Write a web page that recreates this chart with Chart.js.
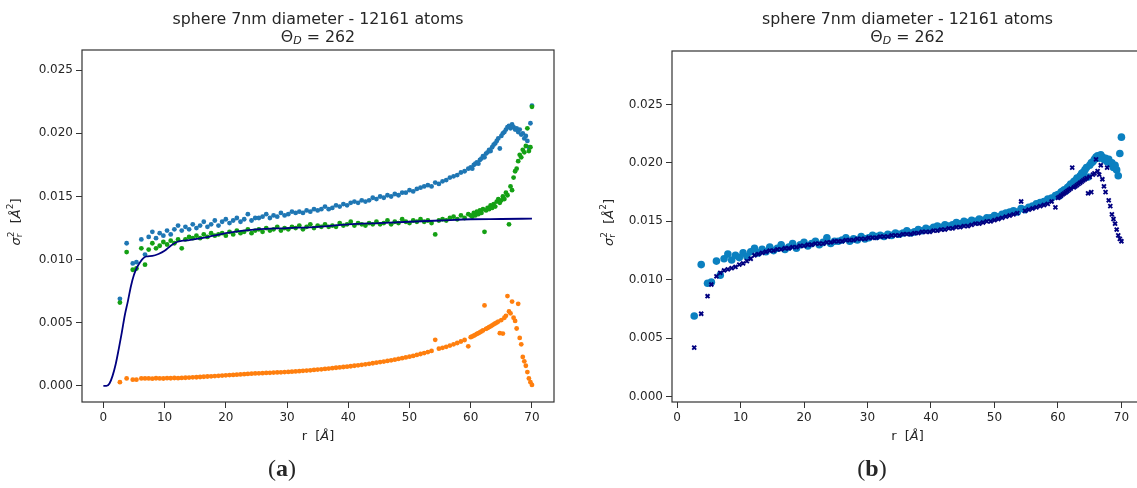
<!DOCTYPE html>
<html>
<head>
<meta charset="utf-8">
<script src="https://cdn.jsdelivr.net/npm/chart.js@4.4.1/dist/chart.umd.min.js"></script>
<style>
  html, body { margin: 0; padding: 0; background: #fff; overflow: hidden; }
  #wrap { position: relative; width: 1137px; height: 488px; overflow: hidden; }
  #chartA { position: absolute; left: 0; top: 0; }
  #chartB { position: absolute; left: 570px; top: 0; }
</style>
</head>
<body>
<div id="wrap">
  <canvas id="chartA" width="570" height="488"></canvas>
  <canvas id="chartB" width="580" height="488"></canvas>
</div>
<script>
const shellR = [
  2.7, 3.8, 4.8, 5.4, 6.2, 6.8,
  7.4, 8.0, 8.6, 9.2, 9.8, 10.4, 11.0, 11.6, 12.2, 12.8,
  13.4, 14.0, 14.6, 15.2, 15.8, 16.4, 17.0, 17.6, 18.2, 18.8,
  19.4, 20.0, 20.6, 21.2, 21.8, 22.4, 23.0, 23.6, 24.2, 24.8,
  25.4, 26.0, 26.6, 27.2, 27.8, 28.4, 29.0, 29.6, 30.2, 30.8,
  31.4, 32.0, 32.6, 33.2, 33.8, 34.4, 35.0, 35.6, 36.2, 36.8,
  37.4, 38.0, 38.6, 39.2, 39.8, 40.4, 41.0, 41.6, 42.2, 42.8,
  43.4, 44.0, 44.6, 45.2, 45.8, 46.4, 47.0, 47.6, 48.2, 48.8,
  49.4, 50.0, 50.6, 51.2, 51.8, 52.4, 53.0, 53.6, 54.2, 54.8,
  55.4, 56.0, 56.6, 57.2, 57.8, 58.4, 59.0, 59.6,
  60.0, 60.25, 60.5, 60.75, 61.0, 61.25, 61.5, 61.75, 62.0, 62.25,
  62.5, 62.75, 63.0, 63.25, 63.5, 63.75, 64.0, 64.25, 64.5, 64.75,
  65.0, 65.25, 65.5, 65.75, 66.0, 66.25, 66.5, 66.75, 67.0, 67.25,
  67.5, 67.75, 68.0, 68.25, 68.5, 68.75, 69.0, 69.25, 69.5, 69.75,
  70.0
];

// blue dots (a) / light blue circles (b)
const sigmaTotal = [
  .0069, .0113, .0097, .0098, .0116, .0104,
  .0118, .0122, .0117, .0121, .0119, .0123, .0120, .0124, .0127, .0123,
  .0126, .0124, .0128, .0125, .0127, .0130, .0126, .0128, .0131, .0127,
  .0130, .0132, .0129, .0131, .0133, .0130, .0132, .0136, .0131, .0133,
  .0133, .0134, .0136, .0133, .0135, .0134, .0137, .0135, .0136, .0138,
  .0137, .0138, .0137, .0139, .0138, .0140, .0139, .0140, .0142, .0140,
  .0141, .0143, .0142, .0144, .0143, .0145, .0146, .0145, .0147, .0146,
  .0147, .0149, .0148, .0150, .0149, .0151, .0150, .0152, .0151, .0153,
  .0153, .0155, .0154, .0156, .0157, .0158, .0159, .0158, .0161, .0160,
  .0162, .0163, .0165, .0166, .0167, .0169, .0170, .0172,
  .0173, .0172, .0175, .0176, .0177, .0176, .0179, .0180, .0182, .0181,
  .0184, .0185, .0187, .0186, .0189, .0191, .0192, .0194, .0196, .0188,
  .0198, .0200, .0201, .0203, .0205, .0206, .0204, .0207, .0205, .0203,
  .0204, .0201, .0203, .0199, .0200, .0196, .0198, .0194, .0189, .0208,
  .0222
];

// green dots (a)
const sigmaThermal = [
  .0066, .0106, .0092, .0093, .0109, .0096,
  .0108, .0113, .0109, .0111, .0114, .0112, .0115, .0113, .0116, .0109,
  .0116, .0118, .0117, .0119, .0117, .0120, .0118, .0121, .0119, .0120,
  .0121, .0119, .0122, .0120, .0123, .0121, .0122, .0124, .0121, .0123,
  .0124, .0122, .0125, .0123, .0124, .0126, .0123, .0125, .0124, .0126,
  .0125, .0127, .0124, .0126, .0128, .0125, .0127, .0126, .0128, .0126,
  .0127, .0126, .0129, .0127, .0128, .0130, .0127, .0129, .0128, .0127,
  .0129, .0128, .0130, .0128, .0129, .0131, .0128, .0130, .0129, .0132,
  .0130, .0129, .0131, .0130, .0132, .0130, .0131, .0129, .0120, .0131,
  .0132, .0131, .0133, .0134, .0132, .0135, .0133, .0136,
  .0135, .0134, .0137, .0135, .0138, .0136, .0139, .0137, .0140, .0122,
  .0139, .0141, .0140, .0143, .0141, .0144, .0142, .0146, .0148, .0145,
  .0147, .0150, .0148, .0153, .0151, .0128, .0158, .0155, .0165, .0170,
  .0172, .0178, .0183, .0181, .0187, .0185, .0190, .0204, .0186, .0189,
  .0221
];

// orange dots (a)
const sigmaStatic = [
  .0003, .0006, .0005, .0005, .0006, .0006,
  .00060, .00058, .00061, .00060, .00059, .00062, .00061, .00063, .00062, .00064,
  .00065, .00066, .00068, .00069, .00071, .00073, .00075, .00076, .00078, .00080,
  .00082, .00084, .00086, .00087, .00089, .00091, .00093, .00095, .00097, .00099,
  .00100, .00101, .00103, .00104, .00106, .00107, .00108, .00110, .00111, .00113,
  .00115, .00117, .00120, .00122, .00124, .00127, .00130, .00132, .00135, .00138,
  .00141, .00144, .00147, .00150, .00153, .00156, .00160, .00163, .00167, .00171,
  .00175, .00180, .00184, .00189, .00193, .00198, .00203, .00208, .00214, .00220,
  .00226, .00232, .00238, .00246, .00253, .00260, .00268, .00277, .00365, .00295,
  .00302, .00310, .00320, .00330, .00340, .00352, .00364, .00314,
  .00386, .00392, .00398, .00405, .00412, .00418, .00425, .00432, .00440, .00638,
  .00452, .00458, .00466, .00472, .00480, .00488, .00495, .00502, .00510, .00418,
  .00522, .00415, .00540, .00555, .00712, .00590, .00575, .00668, .00540, .00515,
  .00455, .00650, .00380, .00330, .00230, .00195, .00160, .00110, .00060, .00030,
  .00008
];

// navy crosses (b)
const sigmaModel = [
  .0042, .0071, .0086, .0096, .0103, .0106,
  .0108, .0109, .0110, .0111, .0113, .0114, .0116, .0118, .0121, .0122,
  .0123, .0124, .0125, .0125, .0126, .0126, .0127, .0127, .0128, .0128,
  .0129, .0129, .0130, .0130, .0131, .0131, .0131, .0132, .0132, .0133,
  .0133, .0133, .0134, .0134, .0134, .0135, .0135, .0135, .0136, .0136,
  .0136, .0137, .0137, .0137, .0138, .0138, .0138, .0139, .0139, .0139,
  .0140, .0140, .0141, .0141, .0141, .0142, .0142, .0143, .0143, .0144,
  .0144, .0145, .0145, .0146, .0146, .0147, .0148, .0148, .0149, .0150,
  .0150, .0151, .0152, .0153, .0154, .0155, .0156, .0157, .0167, .0159,
  .0160, .0161, .0162, .0163, .0164, .0165, .0167, .0162,
  .0170, .0171, .0172, .0173, .0174, .0175, .0176, .0177, .0178, .0196,
  .0179, .0180, .0181, .0182, .0183, .0184, .0185, .0186, .0187, .0174,
  .0188, .0175, .0190, .0191, .0203, .0193, .0190, .0198, .0186, .0180,
  .0175, .0196, .0168, .0163, .0156, .0152, .0148, .0143, .0138, .0135,
  .0133
];

// navy curve (a)
const fitR = [0, 0.5, 1.0, 1.5, 2.0, 2.5, 3.0, 3.5, 4.0, 4.5, 5.0, 5.5, 6.0, 6.5, 7.0,
  8.0, 9.0, 10.0, 11.0, 12.0, 13.0, 14.0, 16.0, 18.0, 20.0, 25.0, 30.0, 35.0,
  40.0, 45.0, 50.0, 55.0, 60.0, 65.0, 70.0];
const fitSigma = [0, 0.0000, 0.0002, 0.0008, 0.0017, 0.0029, 0.0042, 0.0056, 0.0067,
  0.0079, 0.0088, 0.0094, 0.0098, 0.0101, 0.01025, 0.0103, 0.01045, 0.0107, 0.0111,
  0.0114, 0.0115, 0.01155, 0.0117, 0.0119, 0.0121, 0.0124, 0.0125, 0.0126, 0.0128,
  0.0129, 0.0130, 0.0131, 0.0132, 0.01322, 0.01325];

const xTickVals = [0, 10, 20, 30, 40, 50, 60, 70];
const yTickVals = [0, 0.005, 0.010, 0.015, 0.020, 0.025];
const titleText = 'sphere 7nm diameter - 12161 atoms';

const FONT = "'DejaVu Sans', sans-serif";
const INK = '#262626';
const BLUE = '#1f77b4', GREEN = '#14a014', ORANGE = '#ff7f0e', NAVY = '#000080', CYAN = '#0b80c0';

const pts = (xs, ys) => xs.map((x, i) => ({ x, y: ys[i] }));

// draws a row of runs (with sub/superscripts) centred on x
function richText(ctx, parts, x, y) {
  const runs = [];
  let width = 0, lastStart = 0;
  parts.forEach(p => {
    const font = (p.italic ? 'italic ' : '') + (p.bold ? 'bold ' : '') + p.size + 'px ' + (p.family || FONT);
    ctx.font = font;
    const w = ctx.measureText(p.t).width;
    const start = p.stack ? lastStart : width;
    if (!p.stack) lastStart = start;
    runs.push({ text: p.t, font, start, dy: p.dy || 0 });
    width = Math.max(width, start + w);
  });
  const x0 = x - width / 2;
  ctx.textAlign = 'left';
  ctx.textBaseline = 'middle';
  runs.forEach(r => { ctx.font = r.font; ctx.fillText(r.text, x0 + r.start, y + r.dy); });
}

function labelsPlugin(panel) {
  return {
    id: 'labels',
    afterDatasetsDraw(chart) {
      const { ctx, chartArea: a } = chart;
      ctx.save();
      ctx.strokeStyle = '#333';
      ctx.lineWidth = 1.2;
      ctx.strokeRect(a.left, a.top, a.right - a.left, a.bottom - a.top);
      ctx.restore();
    },
    afterDraw(chart) {
      const { ctx, chartArea: a } = chart;
      const cx = (a.left + a.right) / 2;
      ctx.save();
      ctx.fillStyle = INK;
      richText(ctx, [{ t: titleText, size: 15.8 }], cx, 20);
      richText(ctx, [{ t: 'Θ', size: 15.8 }, { t: 'D', size: 11, italic: true, dy: 3 },
                     { t: ' = 262', size: 15.8 }], cx, 38);
      richText(ctx, [{ t: 'r  [', size: 13 }, { t: 'Å', size: 13, italic: true },
                     { t: ']', size: 13 }], cx, 437);
      richText(ctx, [{ t: '(', size: 24, family: "'Liberation Serif', serif" },
                     { t: panel.tag, size: 24, bold: true, family: "'Liberation Serif', serif" },
                     { t: ')', size: 24, family: "'Liberation Serif', serif" }], panel.tagX, 470);
      ctx.translate(panel.yLabelX, (a.top + a.bottom) / 2 - 4);
      ctx.rotate(-Math.PI / 2);
      richText(ctx, [{ t: 'σ', size: 13, italic: true }, { t: '2', size: 9, dy: -5 },
                     { t: 'r', size: 9, dy: 3, stack: true }, { t: '  [', size: 13 },
                     { t: 'Å', size: 13, italic: true }, { t: '2', size: 9, dy: -6 },
                     { t: ']', size: 13 }], 0, 0);
      ctx.restore();
    }
  };
}

function axisOpts(vals, fmt, extra) {
  return Object.assign({
    type: 'linear',
    afterBuildTicks: s => { s.ticks = vals.map(v => ({ value: v })); },
    border: { display: false },
    grid: { drawOnChartArea: false, drawTicks: true, tickLength: 6, tickColor: '#333', tickWidth: 1 },
    ticks: { autoSkip: false, maxRotation: 0, color: INK, font: { family: FONT, size: 12 }, callback: fmt }
  }, extra);
}

function makeChart(id, datasets, panel) {
  return new Chart(document.getElementById(id), {
    type: 'scatter',
    data: { datasets },
    options: {
      responsive: false,
      animation: false,
      events: [],
      layout: { padding: { left: 0, right: panel.padRight, top: panel.padTop, bottom: 0 } },
      plugins: { legend: { display: false }, tooltip: { enabled: false } },
      scales: {
        x: axisOpts(xTickVals, v => String(v), {
          min: panel.xMin, max: panel.xMax,
          afterFit: s => { s.height = 86; }
        }),
        y: axisOpts(yTickVals, v => v.toFixed(3), {
          min: panel.yMin, max: panel.yMax,
          afterFit: s => { s.width = panel.yWidth; }
        })
      }
    },
    plugins: [labelsPlugin(panel)]
  });
}

const dot = (data, color, r, order) => ({
  data, order, showLine: false,
  pointRadius: r, pointHoverRadius: r,
  pointBackgroundColor: color, pointBorderColor: color, pointBorderWidth: 0
});

// — (a) —
makeChart('chartA', [
  { data: pts(fitR, fitSigma), order: 0, showLine: true, borderColor: NAVY, borderWidth: 1.8,
    pointRadius: 0, cubicInterpolationMode: 'monotone' },
  dot(pts(shellR, sigmaThermal), GREEN, 2.4, 1),
  dot(pts(shellR, sigmaStatic), ORANGE, 2.4, 2),
  dot(pts(shellR, sigmaTotal), BLUE, 2.4, 3)
], { tag: 'a', tagX: 282, yLabelX: 17, xMin: -3.49, xMax: 73.6, yMin: -0.00127, yMax: 0.0266,
     yWidth: 82, padRight: 16, padTop: 50 });

// — (b) —
makeChart('chartB', [
  { data: pts(shellR, sigmaModel), order: 0, showLine: false, pointStyle: 'crossRot',
    pointRadius: 2.8, pointHoverRadius: 2.8, pointBorderColor: NAVY, pointBorderWidth: 1.9 },
  dot(pts(shellR, sigmaTotal), CYAN, 3.8, 1)
], { tag: 'b', tagX: 302, yLabelX: 40, xMin: -0.8, xMax: 73.4, yMin: -0.00045, yMax: 0.02957,
     yWidth: 102, padRight: 7, padTop: 51 });
</script>
</body>
</html>
